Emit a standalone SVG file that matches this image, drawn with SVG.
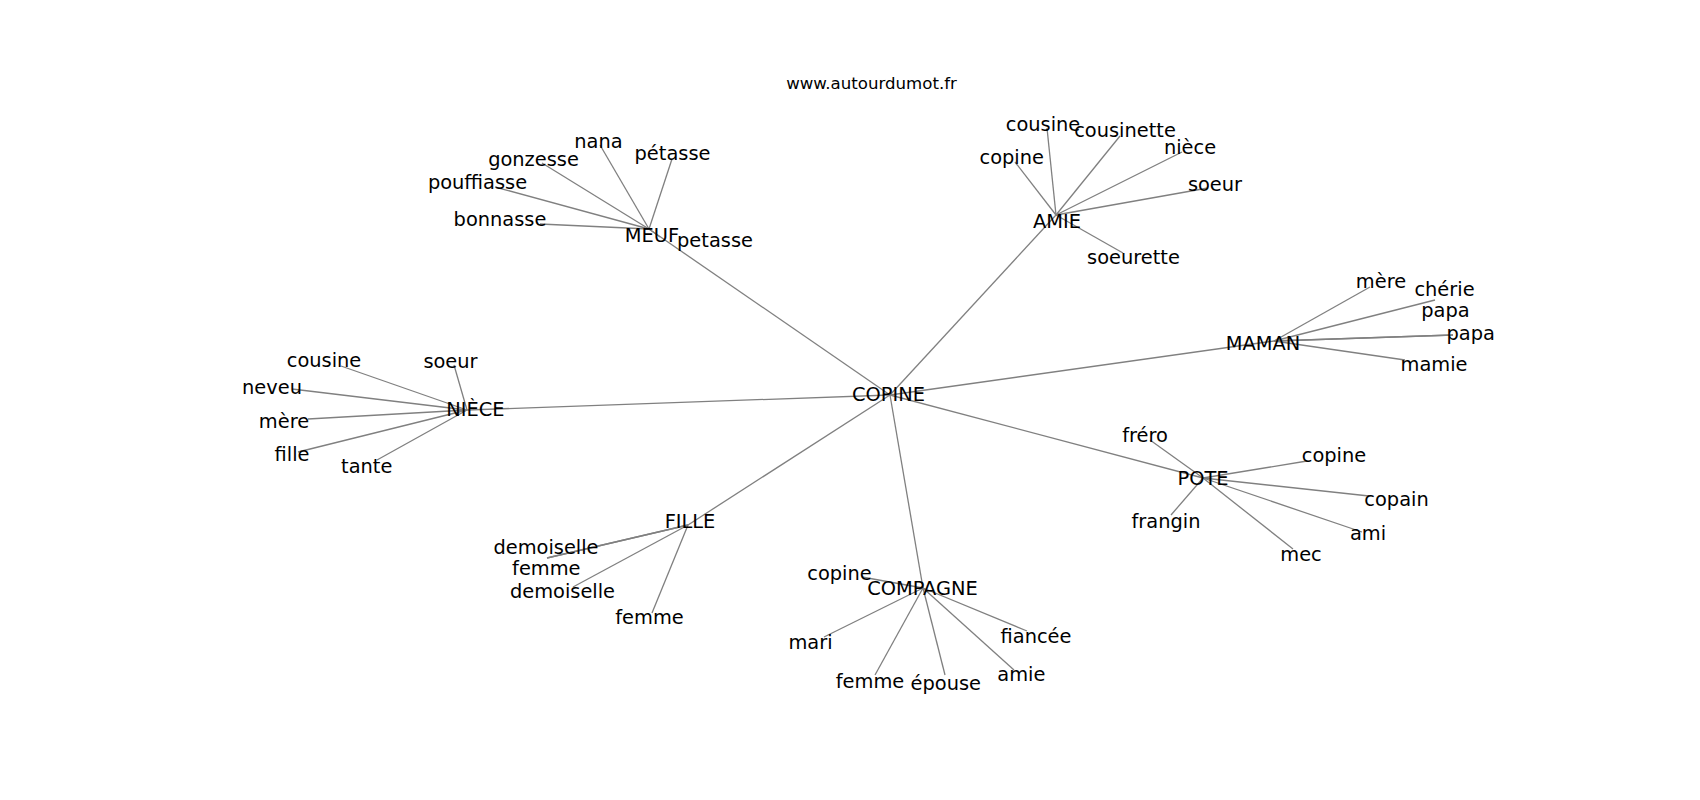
<svg xmlns="http://www.w3.org/2000/svg" width="1700" height="800" viewBox="0 0 1700 800">
<style>
.lbl{font-family:"DejaVu Sans","Liberation Sans",sans-serif;font-size:19.4px;fill:#000;text-anchor:middle}
.title{font-family:"DejaVu Sans","Liberation Sans",sans-serif;font-size:16.6px;fill:#000;text-anchor:middle}
#edges line{stroke:#808080;stroke-width:1.3;fill:none}
</style>
<rect width="1700" height="800" fill="#fff"/>
<text class="title" x="871.5" y="89">www.autourdumot.fr</text>
<g id="edges">
<line x1="890" y1="395" x2="649" y2="229"/>
<line x1="890" y1="395" x2="1056" y2="215"/>
<line x1="890" y1="395" x2="1274" y2="341"/>
<line x1="890" y1="395" x2="1203" y2="478"/>
<line x1="890" y1="395" x2="923" y2="588"/>
<line x1="890" y1="395" x2="688" y2="525"/>
<line x1="890" y1="395" x2="467" y2="410"/>
<line x1="649" y1="229" x2="600" y2="145"/>
<line x1="649" y1="229" x2="672" y2="159"/>
<line x1="649" y1="229" x2="542" y2="163"/>
<line x1="649" y1="229" x2="495" y2="187"/>
<line x1="649" y1="229" x2="540" y2="224"/>
<line x1="649" y1="229" x2="660" y2="237"/>
<line x1="1056" y1="215" x2="1047" y2="128"/>
<line x1="1056" y1="215" x2="1120" y2="136"/>
<line x1="1056" y1="215" x2="1182" y2="152"/>
<line x1="1056" y1="215" x2="1208" y2="188"/>
<line x1="1056" y1="215" x2="1015" y2="162"/>
<line x1="1056" y1="215" x2="1123" y2="253"/>
<line x1="1274" y1="341" x2="1370" y2="287"/>
<line x1="1274" y1="341" x2="1435" y2="300"/>
<line x1="1274" y1="341" x2="1453" y2="335"/>
<line x1="1274" y1="341" x2="1453" y2="335"/>
<line x1="1274" y1="341" x2="1405" y2="360"/>
<line x1="1203" y1="478" x2="1150" y2="440"/>
<line x1="1203" y1="478" x2="1307" y2="461"/>
<line x1="1203" y1="478" x2="1369" y2="496"/>
<line x1="1203" y1="478" x2="1362" y2="532"/>
<line x1="1203" y1="478" x2="1293" y2="549"/>
<line x1="1203" y1="478" x2="1171" y2="515"/>
<line x1="467" y1="410" x2="341" y2="366"/>
<line x1="467" y1="410" x2="454" y2="365"/>
<line x1="467" y1="410" x2="292" y2="389"/>
<line x1="467" y1="410" x2="308" y2="419"/>
<line x1="467" y1="410" x2="298" y2="452"/>
<line x1="467" y1="410" x2="377" y2="460"/>
<line x1="688" y1="525" x2="547" y2="558"/>
<line x1="688" y1="525" x2="547" y2="558"/>
<line x1="688" y1="525" x2="573" y2="587"/>
<line x1="688" y1="525" x2="652" y2="613"/>
<line x1="923" y1="588" x2="862" y2="577"/>
<line x1="923" y1="588" x2="824" y2="637"/>
<line x1="923" y1="588" x2="875" y2="675"/>
<line x1="923" y1="588" x2="945" y2="675"/>
<line x1="923" y1="588" x2="1014" y2="670"/>
<line x1="923" y1="588" x2="1027" y2="631"/>
</g>
<g id="n-copine"><text class="lbl" x="888.5" y="401">COPINE</text></g>
<g id="n-meuf"><text class="lbl" x="652" y="242">MEUF</text></g>
<g id="n-meuf-nana"><text class="lbl" x="598.5" y="148">nana</text></g>
<g id="n-meuf-petasse-acc"><text class="lbl" x="672.5" y="160">pétasse</text></g>
<g id="n-meuf-gonzesse"><text class="lbl" x="533.5" y="166">gonzesse</text></g>
<g id="n-meuf-pouffiasse"><text class="lbl" x="477.5" y="189">pouffiasse</text></g>
<g id="n-meuf-bonnasse"><text class="lbl" x="500" y="226">bonnasse</text></g>
<g id="n-meuf-petasse"><text class="lbl" x="715" y="247">petasse</text></g>
<g id="n-amie"><text class="lbl" x="1057" y="228">AMIE</text></g>
<g id="n-amie-cousine"><text class="lbl" x="1043" y="131">cousine</text></g>
<g id="n-amie-cousinette"><text class="lbl" x="1125" y="137">cousinette</text></g>
<g id="n-amie-niece"><text class="lbl" x="1190" y="154">nièce</text></g>
<g id="n-amie-copine"><text class="lbl" x="1011.7" y="164">copine</text></g>
<g id="n-amie-soeur"><text class="lbl" x="1215" y="191">soeur</text></g>
<g id="n-amie-soeurette"><text class="lbl" x="1133.5" y="264">soeurette</text></g>
<g id="n-niece"><text class="lbl" x="475.5" y="416">NIÈCE</text></g>
<g id="n-niece-cousine"><text class="lbl" x="324" y="367">cousine</text></g>
<g id="n-niece-soeur"><text class="lbl" x="450.5" y="368">soeur</text></g>
<g id="n-niece-neveu"><text class="lbl" x="272" y="394">neveu</text></g>
<g id="n-niece-mere"><text class="lbl" x="284" y="428">mère</text></g>
<g id="n-niece-fille"><text class="lbl" x="292" y="461">fille</text></g>
<g id="n-niece-tante"><text class="lbl" x="366.7" y="473">tante</text></g>
<g id="n-maman"><text class="lbl" x="1263" y="350">MAMAN</text></g>
<g id="n-maman-mere"><text class="lbl" x="1381" y="288">mère</text></g>
<g id="n-maman-cherie"><text class="lbl" x="1444.5" y="296">chérie</text></g>
<g id="n-maman-papa1"><text class="lbl" x="1445.5" y="317">papa</text></g>
<g id="n-maman-papa2"><text class="lbl" x="1470.7" y="340">papa</text></g>
<g id="n-maman-mamie"><text class="lbl" x="1434" y="371">mamie</text></g>
<g id="n-pote"><text class="lbl" x="1203" y="485">POTE</text></g>
<g id="n-pote-frero"><text class="lbl" x="1145" y="442">fréro</text></g>
<g id="n-pote-copine"><text class="lbl" x="1334" y="462">copine</text></g>
<g id="n-pote-copain"><text class="lbl" x="1396.5" y="506">copain</text></g>
<g id="n-pote-ami"><text class="lbl" x="1368" y="540">ami</text></g>
<g id="n-pote-mec"><text class="lbl" x="1301" y="561">mec</text></g>
<g id="n-pote-frangin"><text class="lbl" x="1166" y="528">frangin</text></g>
<g id="n-fille"><text class="lbl" x="690" y="528">FILLE</text></g>
<g id="n-fille-demoiselle1"><text class="lbl" x="546" y="554">demoiselle</text></g>
<g id="n-fille-femme1"><text class="lbl" x="546.3" y="575">femme</text></g>
<g id="n-fille-demoiselle2"><text class="lbl" x="562.5" y="598">demoiselle</text></g>
<g id="n-fille-femme2"><text class="lbl" x="649.5" y="624">femme</text></g>
<g id="n-compagne"><text class="lbl" x="922.5" y="594.5">COMPAGNE</text></g>
<g id="n-compagne-copine"><text class="lbl" x="839.5" y="579.5">copine</text></g>
<g id="n-compagne-mari"><text class="lbl" x="810.5" y="649">mari</text></g>
<g id="n-compagne-fiancee"><text class="lbl" x="1036" y="642.7">fiancée</text></g>
<g id="n-compagne-femme"><text class="lbl" x="870" y="687.5">femme</text></g>
<g id="n-compagne-epouse"><text class="lbl" x="945.8" y="689.5">épouse</text></g>
<g id="n-compagne-amie"><text class="lbl" x="1021.3" y="680.5">amie</text></g>
</svg>
